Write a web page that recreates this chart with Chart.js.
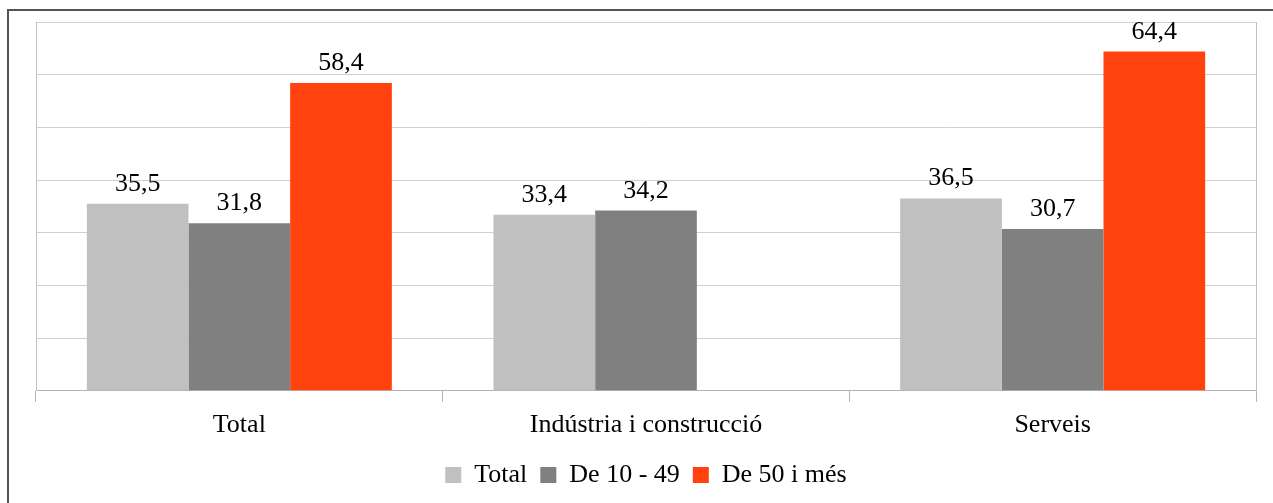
<!DOCTYPE html>
<html>
<head>
<meta charset="utf-8">
<script src="https://cdn.jsdelivr.net/npm/chart.js@4/dist/chart.umd.min.js"></script>
<style>
  html, body { margin: 0; padding: 0; background: #fff; }
  #wrap { width: 1273px; height: 503px; position: relative; }
</style>
</head>
<body>
<div id="wrap"><canvas id="chart" width="1273" height="503"></canvas></div>
<script>
const categories = ["Total", "Indústria i construcció", "Serveis"];
const seriesNames = ["Total", "De 10 - 49", "De 50 i més"];
const totalValues = [35.5, 33.4, 36.5];
const smallValues = [31.8, 34.2, 30.7];
const largeValues = [58.4, null, 64.4];
const seriesColors = ["#c0c0c0", "#808080", "#ff420e"];
const yTicks = [0, 10, 20, 30, 40, 50, 60, 70];

const FONT = "'Liberation Serif', 'DejaVu Serif', serif";

// value labels above each bar, with a decimal comma
const barLabels = {
    id: "barLabels",
    afterDatasetsDraw(chart) {
        const ctx = chart.ctx;
        ctx.save();
        ctx.font = "26px " + FONT;
        ctx.fillStyle = "#000";
        ctx.textAlign = "center";
        ctx.textBaseline = "alphabetic";
        chart.data.datasets.forEach((ds, i) => {
            chart.getDatasetMeta(i).data.forEach((bar, j) => {
                const v = ds.data[j];
                if (v === null || v === undefined) return;
                ctx.fillText(v.toFixed(1).replace(".", ","), bar.x, bar.y - 13);
            });
        });
        ctx.restore();
    }
};

// plot frame on the right side and the outer border of the picture
const frame = {
    id: "frame",
    beforeDraw(chart) {
        const ctx = chart.ctx;
        ctx.save();
        ctx.fillStyle = "#fff";
        ctx.fillRect(0, 0, chart.width, chart.height);
        ctx.strokeStyle = "#555";
        ctx.lineWidth = 2;
        ctx.beginPath();
        ctx.moveTo(8, chart.height + 5);
        ctx.lineTo(8, 10);
        ctx.lineTo(chart.width + 5, 10);
        ctx.stroke();
        ctx.restore();
    },
    afterDatasetsDraw(chart) {
        const a = chart.chartArea;
        const ctx = chart.ctx;
        ctx.save();
        ctx.strokeStyle = "#c0c0c0";
        ctx.lineWidth = 1;
        ctx.beginPath();
        ctx.moveTo(Math.round(a.right) + 0.5, a.top);
        ctx.lineTo(Math.round(a.right) + 0.5, a.bottom);
        ctx.stroke();
        ctx.restore();
    }
};

new Chart(document.getElementById("chart"), {
    type: "bar",
    data: {
        labels: categories,
        datasets: [
            { label: seriesNames[0], data: totalValues, backgroundColor: seriesColors[0] },
            { label: seriesNames[1], data: smallValues, backgroundColor: seriesColors[1] },
            { label: seriesNames[2], data: largeValues, backgroundColor: seriesColors[2] }
        ]
    },
    options: {
        responsive: false,
        animation: false,
        devicePixelRatio: 1,
        layout: { padding: { left: 36, right: 17, top: 22, bottom: 5 } },
        datasets: { bar: { categoryPercentage: 0.75, barPercentage: 1.0 } },
        plugins: {
            legend: {
                position: "bottom",
                labels: {
                    boxWidth: 16,
                    boxHeight: 16,
                    padding: 13,
                    color: "#000",
                    font: { family: FONT, size: 26 }
                }
            },
            tooltip: { enabled: false }
        },
        scales: {
            x: {
                grid: {
                    offset: true,
                    drawOnChartArea: false,
                    drawTicks: true,
                    tickLength: 11,
                    color: "#b3b3b3"
                },
                border: { color: "#b3b3b3" },
                ticks: {
                    color: "#000",
                    padding: 8,
                    font: { family: FONT, size: 26 }
                }
            },
            y: {
                min: yTicks[0],
                max: yTicks[yTicks.length - 1],
                afterBuildTicks(axis) {
                    axis.ticks = yTicks.map(v => ({ value: v }));
                },
                grid: { color: "#d0d0d0", drawTicks: false },
                border: { color: "#c0c0c0" },
                ticks: { display: false }
            }
        }
    },
    plugins: [barLabels, frame]
});
</script>
</body>
</html>
